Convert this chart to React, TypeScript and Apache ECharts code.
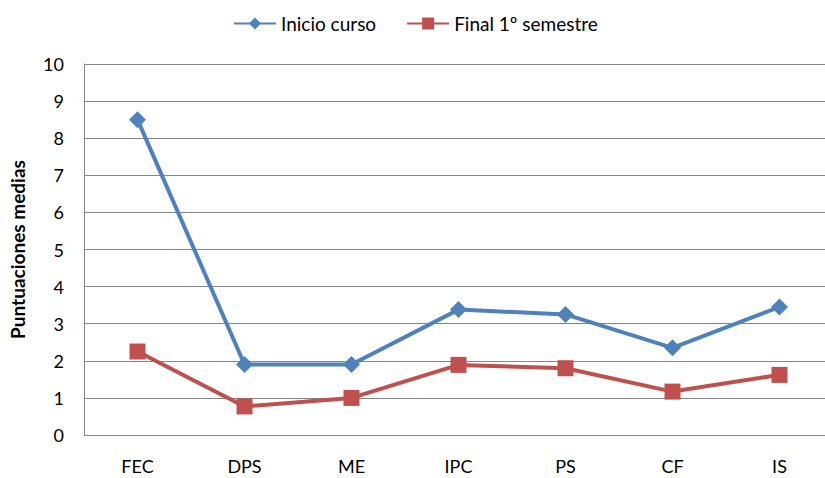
import React, { useEffect, useRef } from "react";
import * as echarts from "echarts";

const categories = ["FEC", "DPS", "ME", "IPC", "PS", "CF", "IS"];
const inicioCurso = [8.5, 1.9, 1.9, 3.38, 3.25, 2.35, 3.45];
const finalSemestre = [2.25, 0.77, 1.0, 1.89, 1.8, 1.17, 1.62];
const yTicks = { min: 0, max: 10, interval: 1 };

const FONT = "Lato, 'Open Sans', sans-serif";

export default function App() {
  const ref = useRef<HTMLDivElement>(null);
  useEffect(() => {
    const chart = echarts.init(ref.current!, null, { renderer: "svg" });
    chart.setOption({
      animation: false,
      textStyle: { fontFamily: FONT },
      legend: {
        top: 9,
        left: 228,
        itemWidth: 42,
        itemHeight: 15,
        itemGap: 30,
        textStyle: { fontSize: 19, color: "#000", fontFamily: FONT },
        data: ["Inicio curso", "Final 1º semestre"],
      },
      grid: { left: 83, top: 64, width: 750, height: 371 },
      xAxis: {
        type: "category",
        data: categories,
        boundaryGap: true,
        axisLine: { lineStyle: { color: "#868686", width: 1 } },
        axisTick: { show: false },
        axisLabel: { color: "#000", fontSize: 18, margin: 22, fontFamily: FONT },
      },
      yAxis: {
        type: "value",
        min: yTicks.min,
        max: yTicks.max,
        interval: yTicks.interval,
        name: "Puntuaciones medias",
        nameLocation: "middle",
        nameGap: 57,
        nameTextStyle: { fontSize: 19, fontWeight: "bold", color: "#000", fontFamily: FONT },
        axisLine: { show: true, lineStyle: { color: "#868686", width: 1 } },
        axisTick: { show: false },
        axisLabel: { color: "#000", fontSize: 18, margin: 20, fontFamily: FONT },
        splitLine: { lineStyle: { color: "#868686", width: 1 } },
      },
      series: [
        {
          name: "Inicio curso",
          type: "line",
          data: inicioCurso,
          symbol: "diamond",
          symbolSize: 17,
          lineStyle: { color: "#4F81BD", width: 4 },
          itemStyle: { color: "#4F81BD" },
        },
        {
          name: "Final 1º semestre",
          type: "line",
          data: finalSemestre,
          symbol: "rect",
          symbolSize: 16,
          lineStyle: { color: "#C0504D", width: 4 },
          itemStyle: { color: "#C0504D" },
        },
      ],
    });
    return () => chart.dispose();
  }, []);
  return (
    <div style={{ position: "absolute", left: 0, top: 0, width: 825, height: 478, overflow: "hidden" }}>
      <div ref={ref} style={{ width: 840, height: 478 }} />
    </div>
  );
}
